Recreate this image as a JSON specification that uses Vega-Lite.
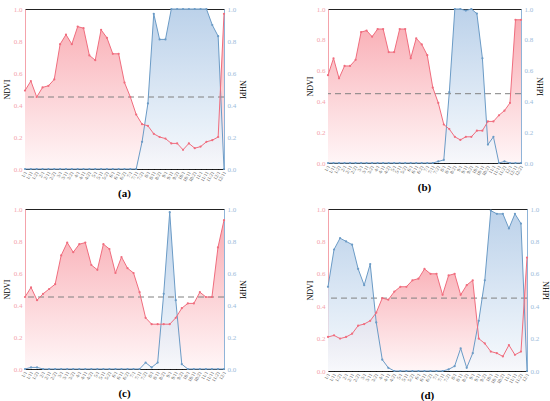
{
  "$schema": "https://vega.github.io/schema/vega-lite/v6.json",
  "padding": {"left": 2, "top": 4, "right": 2, "bottom": 2},
  "columns": 2,
  "spacing": {"column": 58, "row": 4},
  "datasets": {
    "series": [
      {"panel": "a", "date": "1/1", "ndvi": 0.49, "nhpi": 0},
      {"panel": "a", "date": "1/11", "ndvi": 0.55, "nhpi": 0},
      {"panel": "a", "date": "1/21", "ndvi": 0.45, "nhpi": 0},
      {"panel": "a", "date": "2/1", "ndvi": 0.51, "nhpi": 0},
      {"panel": "a", "date": "2/11", "ndvi": 0.52, "nhpi": 0},
      {"panel": "a", "date": "2/21", "ndvi": 0.56, "nhpi": 0},
      {"panel": "a", "date": "3/1", "ndvi": 0.78, "nhpi": 0},
      {"panel": "a", "date": "3/11", "ndvi": 0.84, "nhpi": 0},
      {"panel": "a", "date": "3/21", "ndvi": 0.78, "nhpi": 0},
      {"panel": "a", "date": "4/1", "ndvi": 0.89, "nhpi": 0},
      {"panel": "a", "date": "4/11", "ndvi": 0.88, "nhpi": 0},
      {"panel": "a", "date": "4/21", "ndvi": 0.71, "nhpi": 0},
      {"panel": "a", "date": "5/1", "ndvi": 0.68, "nhpi": 0},
      {"panel": "a", "date": "5/11", "ndvi": 0.87, "nhpi": 0},
      {"panel": "a", "date": "5/21", "ndvi": 0.82, "nhpi": 0},
      {"panel": "a", "date": "6/1", "ndvi": 0.72, "nhpi": 0},
      {"panel": "a", "date": "6/11", "ndvi": 0.72, "nhpi": 0},
      {"panel": "a", "date": "6/21", "ndvi": 0.54, "nhpi": 0},
      {"panel": "a", "date": "7/1", "ndvi": 0.45, "nhpi": 0},
      {"panel": "a", "date": "7/11", "ndvi": 0.34, "nhpi": 0},
      {"panel": "a", "date": "7/21", "ndvi": 0.28, "nhpi": 0.17},
      {"panel": "a", "date": "8/1", "ndvi": 0.27, "nhpi": 0.41},
      {"panel": "a", "date": "8/11", "ndvi": 0.22, "nhpi": 0.97},
      {"panel": "a", "date": "8/21", "ndvi": 0.2, "nhpi": 0.81},
      {"panel": "a", "date": "9/1", "ndvi": 0.19, "nhpi": 0.81},
      {"panel": "a", "date": "9/11", "ndvi": 0.16, "nhpi": 1.0},
      {"panel": "a", "date": "9/21", "ndvi": 0.16, "nhpi": 1.0},
      {"panel": "a", "date": "10/1", "ndvi": 0.12, "nhpi": 1.0},
      {"panel": "a", "date": "10/11", "ndvi": 0.16, "nhpi": 1.0},
      {"panel": "a", "date": "10/21", "ndvi": 0.13, "nhpi": 1.0},
      {"panel": "a", "date": "11/1", "ndvi": 0.14, "nhpi": 1.0},
      {"panel": "a", "date": "11/11", "ndvi": 0.17, "nhpi": 1.0},
      {"panel": "a", "date": "11/21", "ndvi": 0.18, "nhpi": 0.9},
      {"panel": "a", "date": "12/1", "ndvi": 0.2, "nhpi": 0.83},
      {"panel": "a", "date": "12/11", "ndvi": 0.97, "nhpi": 0},

      {"panel": "b", "date": "1/1", "ndvi": 0.57, "nhpi": 0},
      {"panel": "b", "date": "1/11", "ndvi": 0.68, "nhpi": 0},
      {"panel": "b", "date": "1/21", "ndvi": 0.55, "nhpi": 0},
      {"panel": "b", "date": "2/1", "ndvi": 0.63, "nhpi": 0},
      {"panel": "b", "date": "2/11", "ndvi": 0.63, "nhpi": 0},
      {"panel": "b", "date": "2/21", "ndvi": 0.67, "nhpi": 0},
      {"panel": "b", "date": "3/1", "ndvi": 0.85, "nhpi": 0},
      {"panel": "b", "date": "3/11", "ndvi": 0.86, "nhpi": 0},
      {"panel": "b", "date": "3/21", "ndvi": 0.82, "nhpi": 0},
      {"panel": "b", "date": "4/1", "ndvi": 0.87, "nhpi": 0},
      {"panel": "b", "date": "4/11", "ndvi": 0.87, "nhpi": 0},
      {"panel": "b", "date": "4/21", "ndvi": 0.72, "nhpi": 0},
      {"panel": "b", "date": "5/1", "ndvi": 0.72, "nhpi": 0},
      {"panel": "b", "date": "5/11", "ndvi": 0.87, "nhpi": 0},
      {"panel": "b", "date": "5/21", "ndvi": 0.87, "nhpi": 0},
      {"panel": "b", "date": "6/1", "ndvi": 0.68, "nhpi": 0},
      {"panel": "b", "date": "6/11", "ndvi": 0.81, "nhpi": 0},
      {"panel": "b", "date": "6/21", "ndvi": 0.77, "nhpi": 0},
      {"panel": "b", "date": "7/1", "ndvi": 0.7, "nhpi": 0},
      {"panel": "b", "date": "7/11", "ndvi": 0.49, "nhpi": 0},
      {"panel": "b", "date": "7/21", "ndvi": 0.39, "nhpi": 0.01},
      {"panel": "b", "date": "8/1", "ndvi": 0.25, "nhpi": 0.02},
      {"panel": "b", "date": "8/11", "ndvi": 0.22, "nhpi": 0.46},
      {"panel": "b", "date": "8/21", "ndvi": 0.17, "nhpi": 1.0},
      {"panel": "b", "date": "9/1", "ndvi": 0.15, "nhpi": 1.0},
      {"panel": "b", "date": "9/11", "ndvi": 0.17, "nhpi": 0.99},
      {"panel": "b", "date": "9/21", "ndvi": 0.17, "nhpi": 1.0},
      {"panel": "b", "date": "10/1", "ndvi": 0.21, "nhpi": 0.97},
      {"panel": "b", "date": "10/11", "ndvi": 0.21, "nhpi": 0.68},
      {"panel": "b", "date": "10/21", "ndvi": 0.27, "nhpi": 0.12},
      {"panel": "b", "date": "11/1", "ndvi": 0.27, "nhpi": 0.17},
      {"panel": "b", "date": "11/11", "ndvi": 0.31, "nhpi": 0},
      {"panel": "b", "date": "11/21", "ndvi": 0.34, "nhpi": 0.01},
      {"panel": "b", "date": "12/1", "ndvi": 0.39, "nhpi": 0},
      {"panel": "b", "date": "12/11", "ndvi": 0.93, "nhpi": 0},
      {"panel": "b", "date": "12/21", "ndvi": 0.93, "nhpi": 0},

      {"panel": "c", "date": "1/1", "ndvi": 0.45, "nhpi": 0},
      {"panel": "c", "date": "1/11", "ndvi": 0.51, "nhpi": 0.01},
      {"panel": "c", "date": "1/21", "ndvi": 0.43, "nhpi": 0.01},
      {"panel": "c", "date": "2/1", "ndvi": 0.47, "nhpi": 0},
      {"panel": "c", "date": "2/11", "ndvi": 0.5, "nhpi": 0},
      {"panel": "c", "date": "2/21", "ndvi": 0.53, "nhpi": 0},
      {"panel": "c", "date": "3/1", "ndvi": 0.71, "nhpi": 0},
      {"panel": "c", "date": "3/11", "ndvi": 0.79, "nhpi": 0},
      {"panel": "c", "date": "3/21", "ndvi": 0.73, "nhpi": 0},
      {"panel": "c", "date": "4/1", "ndvi": 0.78, "nhpi": 0},
      {"panel": "c", "date": "4/11", "ndvi": 0.79, "nhpi": 0},
      {"panel": "c", "date": "4/21", "ndvi": 0.65, "nhpi": 0},
      {"panel": "c", "date": "5/1", "ndvi": 0.62, "nhpi": 0},
      {"panel": "c", "date": "5/11", "ndvi": 0.78, "nhpi": 0},
      {"panel": "c", "date": "5/21", "ndvi": 0.75, "nhpi": 0},
      {"panel": "c", "date": "6/1", "ndvi": 0.6, "nhpi": 0},
      {"panel": "c", "date": "6/11", "ndvi": 0.7, "nhpi": 0},
      {"panel": "c", "date": "6/21", "ndvi": 0.63, "nhpi": 0},
      {"panel": "c", "date": "7/1", "ndvi": 0.6, "nhpi": 0},
      {"panel": "c", "date": "7/11", "ndvi": 0.48, "nhpi": 0},
      {"panel": "c", "date": "7/21", "ndvi": 0.32, "nhpi": 0.04},
      {"panel": "c", "date": "8/1", "ndvi": 0.28, "nhpi": 0.01},
      {"panel": "c", "date": "8/11", "ndvi": 0.28, "nhpi": 0.04},
      {"panel": "c", "date": "8/21", "ndvi": 0.28, "nhpi": 0.47},
      {"panel": "c", "date": "9/1", "ndvi": 0.28, "nhpi": 0.98},
      {"panel": "c", "date": "9/11", "ndvi": 0.32, "nhpi": 0.43},
      {"panel": "c", "date": "9/21", "ndvi": 0.38, "nhpi": 0.03},
      {"panel": "c", "date": "10/1", "ndvi": 0.41, "nhpi": 0},
      {"panel": "c", "date": "10/11", "ndvi": 0.41, "nhpi": 0},
      {"panel": "c", "date": "10/21", "ndvi": 0.48, "nhpi": 0},
      {"panel": "c", "date": "11/1", "ndvi": 0.45, "nhpi": 0},
      {"panel": "c", "date": "11/11", "ndvi": 0.45, "nhpi": 0},
      {"panel": "c", "date": "11/21", "ndvi": 0.76, "nhpi": 0},
      {"panel": "c", "date": "12/1", "ndvi": 0.93, "nhpi": 0},

      {"panel": "d", "date": "1/1", "ndvi": 0.21, "nhpi": 0.52},
      {"panel": "d", "date": "1/11", "ndvi": 0.22, "nhpi": 0.75},
      {"panel": "d", "date": "1/21", "ndvi": 0.2, "nhpi": 0.82},
      {"panel": "d", "date": "2/1", "ndvi": 0.21, "nhpi": 0.8},
      {"panel": "d", "date": "2/11", "ndvi": 0.23, "nhpi": 0.78},
      {"panel": "d", "date": "2/21", "ndvi": 0.28, "nhpi": 0.63},
      {"panel": "d", "date": "3/1", "ndvi": 0.29, "nhpi": 0.53},
      {"panel": "d", "date": "3/11", "ndvi": 0.31, "nhpi": 0.66},
      {"panel": "d", "date": "3/21", "ndvi": 0.36, "nhpi": 0.3},
      {"panel": "d", "date": "4/1", "ndvi": 0.45, "nhpi": 0.07},
      {"panel": "d", "date": "4/11", "ndvi": 0.44, "nhpi": 0.02},
      {"panel": "d", "date": "4/21", "ndvi": 0.49, "nhpi": 0},
      {"panel": "d", "date": "5/1", "ndvi": 0.52, "nhpi": 0},
      {"panel": "d", "date": "5/11", "ndvi": 0.52, "nhpi": 0},
      {"panel": "d", "date": "5/21", "ndvi": 0.56, "nhpi": 0},
      {"panel": "d", "date": "6/1", "ndvi": 0.57, "nhpi": 0},
      {"panel": "d", "date": "6/11", "ndvi": 0.63, "nhpi": 0},
      {"panel": "d", "date": "6/21", "ndvi": 0.6, "nhpi": 0},
      {"panel": "d", "date": "7/1", "ndvi": 0.6, "nhpi": 0},
      {"panel": "d", "date": "7/11", "ndvi": 0.47, "nhpi": 0},
      {"panel": "d", "date": "7/21", "ndvi": 0.59, "nhpi": 0.01},
      {"panel": "d", "date": "8/1", "ndvi": 0.6, "nhpi": 0.03},
      {"panel": "d", "date": "8/11", "ndvi": 0.47, "nhpi": 0.14},
      {"panel": "d", "date": "8/21", "ndvi": 0.53, "nhpi": 0.02},
      {"panel": "d", "date": "9/1", "ndvi": 0.56, "nhpi": 0.11},
      {"panel": "d", "date": "9/11", "ndvi": 0.2, "nhpi": 0.31},
      {"panel": "d", "date": "9/21", "ndvi": 0.17, "nhpi": 0.56},
      {"panel": "d", "date": "10/1", "ndvi": 0.12, "nhpi": 0.99},
      {"panel": "d", "date": "10/11", "ndvi": 0.11, "nhpi": 0.97},
      {"panel": "d", "date": "10/21", "ndvi": 0.09, "nhpi": 0.97},
      {"panel": "d", "date": "11/1", "ndvi": 0.16, "nhpi": 0.88},
      {"panel": "d", "date": "11/11", "ndvi": 0.1, "nhpi": 0.97},
      {"panel": "d", "date": "11/21", "ndvi": 0.12, "nhpi": 0.91},
      {"panel": "d", "date": "12/1", "ndvi": 0.7, "nhpi": 0}
    ]
  },
  "data": {"name": "series"},
  "concat": [
    {
      "width": 199, "height": 160,
      "title": "(a)",
      "transform": [{"filter": "datum.panel == 'a'"}],
      "layer": [
        {
          "mark": {"type": "area", "color": {"gradient": "linear", "x1": 0, "y1": 1, "x2": 0, "y2": 0, "stops": [{"offset": 0, "color": "#fff6f7"}, {"offset": 1, "color": "#f9adb4"}]}},
          "encoding": {
            "x": {"field": "date", "type": "ordinal", "sort": null, "scale": {"type": "point", "padding": 0}, "title": null},
            "y": {"field": "ndvi", "type": "quantitative", "scale": {"domain": [0, 1]}, "title": "NDVI"}
          }
        },
        {
          "mark": {"type": "area", "opacity": 0.78, "color": {"gradient": "linear", "x1": 0, "y1": 1, "x2": 0, "y2": 0, "stops": [{"offset": 0, "color": "#f5f9fd"}, {"offset": 1, "color": "#a9c5e4"}]}},
          "encoding": {
            "x": {"field": "date", "type": "ordinal", "sort": null},
            "y": {"field": "nhpi", "type": "quantitative", "scale": {"domain": [0, 1]}, "title": "NHPI"}
          }
        },
        {
          "layer": [
            {
              "transform": [{"aggregate": [{"op": "count", "as": "n"}]}],
              "mark": {"type": "rule", "color": "#808080", "strokeDash": [6, 4], "strokeWidth": 1},
              "encoding": {"y": {"datum": 0.45, "type": "quantitative", "scale": {"domain": [0, 1]}, "axis": null}}
            },
            {
              "mark": {"type": "line", "color": "#6b9bc6", "strokeWidth": 1, "point": {"filled": true, "size": 5, "color": "#6b9bc6"}},
              "encoding": {
                "x": {"field": "date", "type": "ordinal", "sort": null},
                "y": {"field": "nhpi", "type": "quantitative"}
              }
            },
            {
              "mark": {"type": "line", "color": "#f06d7e", "strokeWidth": 1, "point": {"filled": true, "size": 5, "color": "#f06d7e"}},
              "encoding": {
                "x": {"field": "date", "type": "ordinal", "sort": null},
                "y": {"field": "ndvi", "type": "quantitative"}
              }
            }
          ]
        }
      ],
      "resolve": {"scale": {"y": "independent"}}
    },
    {
      "width": 193, "height": 154,
      "title": "(b)",
      "transform": [{"filter": "datum.panel == 'b'"}],
      "layer": [
        {
          "mark": {"type": "area", "color": {"gradient": "linear", "x1": 0, "y1": 1, "x2": 0, "y2": 0, "stops": [{"offset": 0, "color": "#fff6f7"}, {"offset": 1, "color": "#f9adb4"}]}},
          "encoding": {
            "x": {"field": "date", "type": "ordinal", "sort": null, "scale": {"type": "point", "padding": 0}, "title": null},
            "y": {"field": "ndvi", "type": "quantitative", "scale": {"domain": [0, 1]}, "title": "NDVI"}
          }
        },
        {
          "mark": {"type": "area", "opacity": 0.78, "color": {"gradient": "linear", "x1": 0, "y1": 1, "x2": 0, "y2": 0, "stops": [{"offset": 0, "color": "#f5f9fd"}, {"offset": 1, "color": "#a9c5e4"}]}},
          "encoding": {
            "x": {"field": "date", "type": "ordinal", "sort": null},
            "y": {"field": "nhpi", "type": "quantitative", "scale": {"domain": [0, 1]}, "title": "NHPI"}
          }
        },
        {
          "layer": [
            {
              "transform": [{"aggregate": [{"op": "count", "as": "n"}]}],
              "mark": {"type": "rule", "color": "#808080", "strokeDash": [6, 4], "strokeWidth": 1},
              "encoding": {"y": {"datum": 0.45, "type": "quantitative", "scale": {"domain": [0, 1]}, "axis": null}}
            },
            {
              "mark": {"type": "line", "color": "#6b9bc6", "strokeWidth": 1, "point": {"filled": true, "size": 5, "color": "#6b9bc6"}},
              "encoding": {
                "x": {"field": "date", "type": "ordinal", "sort": null},
                "y": {"field": "nhpi", "type": "quantitative"}
              }
            },
            {
              "mark": {"type": "line", "color": "#f06d7e", "strokeWidth": 1, "point": {"filled": true, "size": 5, "color": "#f06d7e"}},
              "encoding": {
                "x": {"field": "date", "type": "ordinal", "sort": null},
                "y": {"field": "ndvi", "type": "quantitative"}
              }
            }
          ]
        }
      ],
      "resolve": {"scale": {"y": "independent"}}
    },
    {
      "width": 199, "height": 160,
      "title": "(c)",
      "transform": [{"filter": "datum.panel == 'c'"}],
      "layer": [
        {
          "mark": {"type": "area", "color": {"gradient": "linear", "x1": 0, "y1": 1, "x2": 0, "y2": 0, "stops": [{"offset": 0, "color": "#fff6f7"}, {"offset": 1, "color": "#f9adb4"}]}},
          "encoding": {
            "x": {"field": "date", "type": "ordinal", "sort": null, "scale": {"type": "point", "padding": 0}, "title": null},
            "y": {"field": "ndvi", "type": "quantitative", "scale": {"domain": [0, 1]}, "title": "NDVI"}
          }
        },
        {
          "mark": {"type": "area", "opacity": 0.78, "color": {"gradient": "linear", "x1": 0, "y1": 1, "x2": 0, "y2": 0, "stops": [{"offset": 0, "color": "#f5f9fd"}, {"offset": 1, "color": "#a9c5e4"}]}},
          "encoding": {
            "x": {"field": "date", "type": "ordinal", "sort": null},
            "y": {"field": "nhpi", "type": "quantitative", "scale": {"domain": [0, 1]}, "title": "NHPI"}
          }
        },
        {
          "layer": [
            {
              "transform": [{"aggregate": [{"op": "count", "as": "n"}]}],
              "mark": {"type": "rule", "color": "#808080", "strokeDash": [6, 4], "strokeWidth": 1},
              "encoding": {"y": {"datum": 0.45, "type": "quantitative", "scale": {"domain": [0, 1]}, "axis": null}}
            },
            {
              "mark": {"type": "line", "color": "#6b9bc6", "strokeWidth": 1, "point": {"filled": true, "size": 5, "color": "#6b9bc6"}},
              "encoding": {
                "x": {"field": "date", "type": "ordinal", "sort": null},
                "y": {"field": "nhpi", "type": "quantitative"}
              }
            },
            {
              "mark": {"type": "line", "color": "#f06d7e", "strokeWidth": 1, "point": {"filled": true, "size": 5, "color": "#f06d7e"}},
              "encoding": {
                "x": {"field": "date", "type": "ordinal", "sort": null},
                "y": {"field": "ndvi", "type": "quantitative"}
              }
            }
          ]
        }
      ],
      "resolve": {"scale": {"y": "independent"}}
    },
    {
      "width": 199, "height": 162,
      "title": "(d)",
      "transform": [{"filter": "datum.panel == 'd'"}],
      "layer": [
        {
          "mark": {"type": "area", "color": {"gradient": "linear", "x1": 0, "y1": 1, "x2": 0, "y2": 0, "stops": [{"offset": 0, "color": "#fff6f7"}, {"offset": 1, "color": "#f9adb4"}]}},
          "encoding": {
            "x": {"field": "date", "type": "ordinal", "sort": null, "scale": {"type": "point", "padding": 0}, "title": null},
            "y": {"field": "ndvi", "type": "quantitative", "scale": {"domain": [0, 1]}, "title": "NDVI"}
          }
        },
        {
          "mark": {"type": "area", "opacity": 0.78, "color": {"gradient": "linear", "x1": 0, "y1": 1, "x2": 0, "y2": 0, "stops": [{"offset": 0, "color": "#f5f9fd"}, {"offset": 1, "color": "#a9c5e4"}]}},
          "encoding": {
            "x": {"field": "date", "type": "ordinal", "sort": null},
            "y": {"field": "nhpi", "type": "quantitative", "scale": {"domain": [0, 1]}, "title": "NHPI"}
          }
        },
        {
          "layer": [
            {
              "transform": [{"aggregate": [{"op": "count", "as": "n"}]}],
              "mark": {"type": "rule", "color": "#808080", "strokeDash": [6, 4], "strokeWidth": 1},
              "encoding": {"y": {"datum": 0.45, "type": "quantitative", "scale": {"domain": [0, 1]}, "axis": null}}
            },
            {
              "mark": {"type": "line", "color": "#6b9bc6", "strokeWidth": 1, "point": {"filled": true, "size": 5, "color": "#6b9bc6"}},
              "encoding": {
                "x": {"field": "date", "type": "ordinal", "sort": null},
                "y": {"field": "nhpi", "type": "quantitative"}
              }
            },
            {
              "mark": {"type": "line", "color": "#f06d7e", "strokeWidth": 1, "point": {"filled": true, "size": 5, "color": "#f06d7e"}},
              "encoding": {
                "x": {"field": "date", "type": "ordinal", "sort": null},
                "y": {"field": "ndvi", "type": "quantitative"}
              }
            }
          ]
        }
      ],
      "resolve": {"scale": {"y": "independent"}}
    }
  ],
  "config": {
    "font": "Liberation Serif",
    "view": {"stroke": "#222", "strokeWidth": 1},
    "title": {"orient": "bottom", "font": "Liberation Serif", "fontSize": 11, "fontWeight": "bold", "color": "#000", "offset": 6},
    "axis": {"grid": false, "labelFont": "Liberation Serif", "titleFont": "Liberation Serif"},
    "axisLeft": {"values": [0, 0.2, 0.4, 0.6, 0.8, 1.0], "format": ".1f", "ticks": false, "domainColor": "#f4a3ab", "labelColor": "#f4a3ab", "labelFontSize": 7, "labelPadding": 3, "titleColor": "#000", "titleFontSize": 8, "titleFontWeight": "normal", "titlePadding": 2},
    "axisRight": {"values": [0, 0.2, 0.4, 0.6, 0.8, 1.0], "format": ".1f", "ticks": false, "domainColor": "#8fb4d8", "labelColor": "#9dbcdb", "labelFontSize": 7, "labelPadding": 3, "titleColor": "#000", "titleFontSize": 8, "titleFontWeight": "normal", "titlePadding": 2},
    "axisBottom": {"domain": false, "tickColor": "#000", "tickSize": -3, "tickWidth": 1, "labelPadding": 5, "labelAngle": -60, "labelFontSize": 5, "labelColor": "#555", "labelOverlap": false}
  }
}
